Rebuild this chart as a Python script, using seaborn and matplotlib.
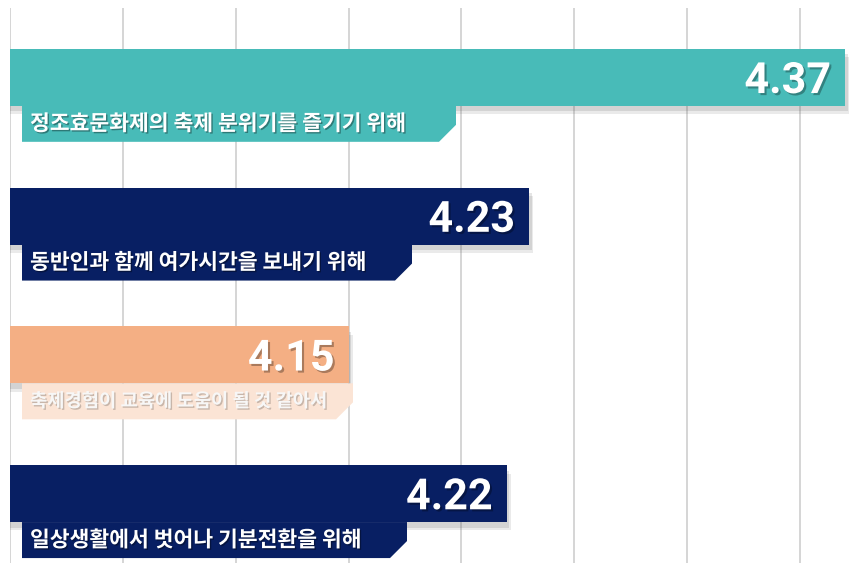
import matplotlib
matplotlib.use("Agg")
import matplotlib.pyplot as plt
import matplotlib.patheffects as pe
from matplotlib.patches import Polygon
from matplotlib.ticker import MultipleLocator
import pandas as pd
import seaborn as sns

# dati
categorie = [
    "정조효문화제의 축제 분위기를 즐기기 위해",
    "동반인과 함께 여가시간을 보내기 위해",
    "축제경험이 교육에 도움이 될 것 같아서",
    "일상생활에서 벗어나 기분전환을 위해",
]
punteggi = [4.37, 4.23, 4.15, 4.22]

colori_barre = ["#48BBB8", "#081F63", "#F4AF84", "#081F63"]
colori_fascia = ["#48BBB8", "#081F63", "#FBE4D5", "#081F63"]
colori_testo = ["white", "white", "#F7F7F7", "white"]
size_testo = [15.5, 15.5, 13.5, 15.5]

df = pd.DataFrame({"cat": categorie, "score": punteggi})

sns.set_theme(style="white")
plt.rcParams["font.family"] = ["Noto Sans CJK KR", "DejaVu Sans"]

W, H = 850, 563
fig = plt.figure(figsize=(W / 100, H / 100), dpi=100)
ax = fig.add_axes([10 / W, 0, 840 / W, 555 / H])

XMIN, XMAX = 4.0, 4.3722
px_x = (XMAX - XMIN) / 840      # unita' per pixel in x
px_y = 4.0 / 555                # unita' per pixel in y

BAR_H = 0.41
sns.barplot(data=df, y="cat", x="score", hue="cat", palette=colori_barre,
            orient="h", width=BAR_H, legend=False, saturation=1, ax=ax)

# ombra morbida (due strati leggeri)
ombra = [pe.SimplePatchShadow(offset=(3, -6), shadow_rgbFace="#555555", alpha=0.12),
         pe.SimplePatchShadow(offset=(2, -4), shadow_rgbFace="#555555", alpha=0.15),
         pe.Normal()]
for p in ax.patches:
    p.set_path_effects(ombra)
    p.set_edgecolor("none")

ax.set_xlim(XMIN, XMAX)
ax.set_ylim(3.5, -0.5)

# fasce con le etichette sotto le barre (larghezze in pixel)
fascia_w = [434, 390, 331, 385]
fascia_h = 36 * px_y
smusso_x, smusso_y = 17 * px_x, 17 * px_y
left = XMIN + 12 * px_x

for i, (cat, val) in enumerate(zip(categorie, punteggi)):
    top = i + BAR_H / 2
    bot = top + fascia_h
    right = left + fascia_w[i] * px_x
    poly = Polygon([(left, top), (right, top), (right, bot - smusso_y),
                    (right - smusso_x, bot), (left, bot)],
                   closed=True, facecolor=colori_fascia[i], edgecolor="none", zorder=3)
    ax.add_patch(poly)

    alpha_ombra = 0.2 if i == 2 else 0.35
    ax.text(left + 8 * px_x, (top + bot) / 2, cat, ha="left", va="center",
            fontsize=size_testo[i], fontweight="bold", color=colori_testo[i], zorder=4,
            path_effects=[pe.SimplePatchShadow(offset=(1, -1), shadow_rgbFace="black",
                                               alpha=alpha_ombra),
                          pe.Normal()])

    ax.text(val - 14 * px_x, i + 0.03, f"{val:.2f}", ha="right", va="center",
            fontsize=31, fontweight="bold", family="Roboto", color="white", zorder=4,
            path_effects=[pe.SimplePatchShadow(offset=(1.5, -1.5), shadow_rgbFace="black", alpha=0.3),
                          pe.Normal()])

# griglia verticale
ax.xaxis.set_major_locator(MultipleLocator(0.05))
ax.grid(axis="x", color="#D2D2D2", linewidth=1.3)
ax.grid(axis="y", visible=False)
ax.set_axisbelow(True)
ax.tick_params(left=False, bottom=False, labelleft=False, labelbottom=False)
ax.set_xlabel("")
ax.set_ylabel("")
sns.despine(ax=ax, left=True, bottom=True)

fig.savefig("out.png", dpi=100)
